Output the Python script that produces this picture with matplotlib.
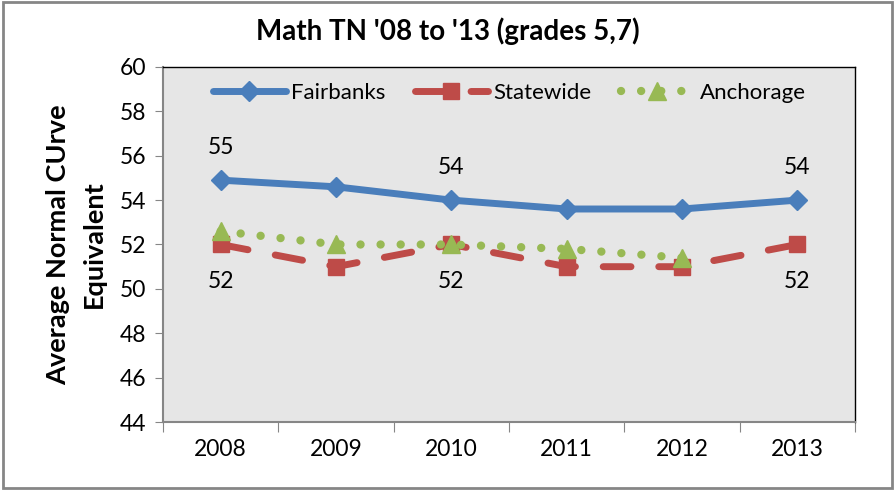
import numpy as np
import matplotlib.pyplot as plt

years = ['2008', '2009', '2010', '2011', '2012', '2013']
fairbanks = [54.9, 54.6, 54.0, 53.6, 53.6, 54.0]
statewide = [52.0, 51.0, 52.0, 51.0, 51.0, 52.0]
anchorage = [52.6, 52.0, 52.0, 51.8, 51.4]

fair_labels = {0: '55', 2: '54', 5: '54'}
state_labels = {0: '52', 2: '52', 5: '52'}

plt.rcParams['font.family'] = ['Lato', 'DejaVu Sans']

blue = '#4A7EBB'
red = '#BE4B48'
green = '#98B954'

fig = plt.figure(figsize=(8.95, 4.9), dpi=100)
ax = fig.add_axes([163/895, 1 - 422/490, (855-163)/895, (422-67)/490])
ax.set_facecolor('#E6E6E6')

x = np.arange(len(years))
ax.plot(x, fairbanks, color=blue, lw=5, marker='D', ms=10, solid_capstyle='round',
        label='Fairbanks', zorder=3)
ax.plot(x, statewide, color=red, lw=5, marker='s', ms=12, dashes=(4, 4),
        dash_capstyle='round', label='Statewide', zorder=2)
ax.plot(x[:len(anchorage)], anchorage, color=green, lw=6, marker='^', ms=13,
        dashes=(0.01, 2.4), dash_capstyle='round', label='Anchorage', zorder=4)

for i, t in fair_labels.items():
    ax.annotate(t, (x[i], fairbanks[i]), xytext=(0, 16), textcoords='offset points',
                ha='center', va='bottom', fontsize=16.5)
for i, t in state_labels.items():
    ax.annotate(t, (x[i], statewide[i]), xytext=(0, -19), textcoords='offset points',
                ha='center', va='top', fontsize=16.5)

ax.set_xlim(-0.5, len(years) - 0.5)
ax.set_ylim(44, 60)
ax.set_yticks(np.arange(44, 61, 2))
ax.set_xticks(np.arange(-0.5, len(years), 1))
ax.set_xticklabels([])
ax.set_xticks(x, minor=True)
ax.set_xticklabels(years, minor=True)
ax.tick_params(axis='x', which='major', length=7, direction='out', color='#868686')
ax.tick_params(axis='x', which='minor', length=0, pad=12, labelsize=16.5)
ax.tick_params(axis='y', length=6, color='#868686', labelsize=16.5, pad=6)

for s in ['top', 'right']:
    ax.spines[s].set_color('black')
    ax.spines[s].set_linewidth(1)
for s in ['left', 'bottom']:
    ax.spines[s].set_color('#868686')
    ax.spines[s].set_linewidth(1.5)

ax.set_ylabel('Average Normal CUrve\nEquivalent', fontsize=19.5, fontweight='bold',
              labelpad=10, linespacing=1.6)
fig.text(0.5, 1 - 31/490, "Math TN '08 to '13 (grades 5,7)", ha='center', va='center',
         fontsize=20, fontweight='bold')

ax.legend(loc='center', ncol=3, frameon=False, fontsize=16, handlelength=3.3,
          columnspacing=1.3, handletextpad=0.25, bbox_to_anchor=(0.5, 1 - 26/355))

fig.patches.append(plt.Rectangle((0.003, 0.005), 0.994, 0.99, transform=fig.transFigure,
                                 fill=False, edgecolor='#868686', lw=2))

fig.savefig('out.png', dpi=100)
